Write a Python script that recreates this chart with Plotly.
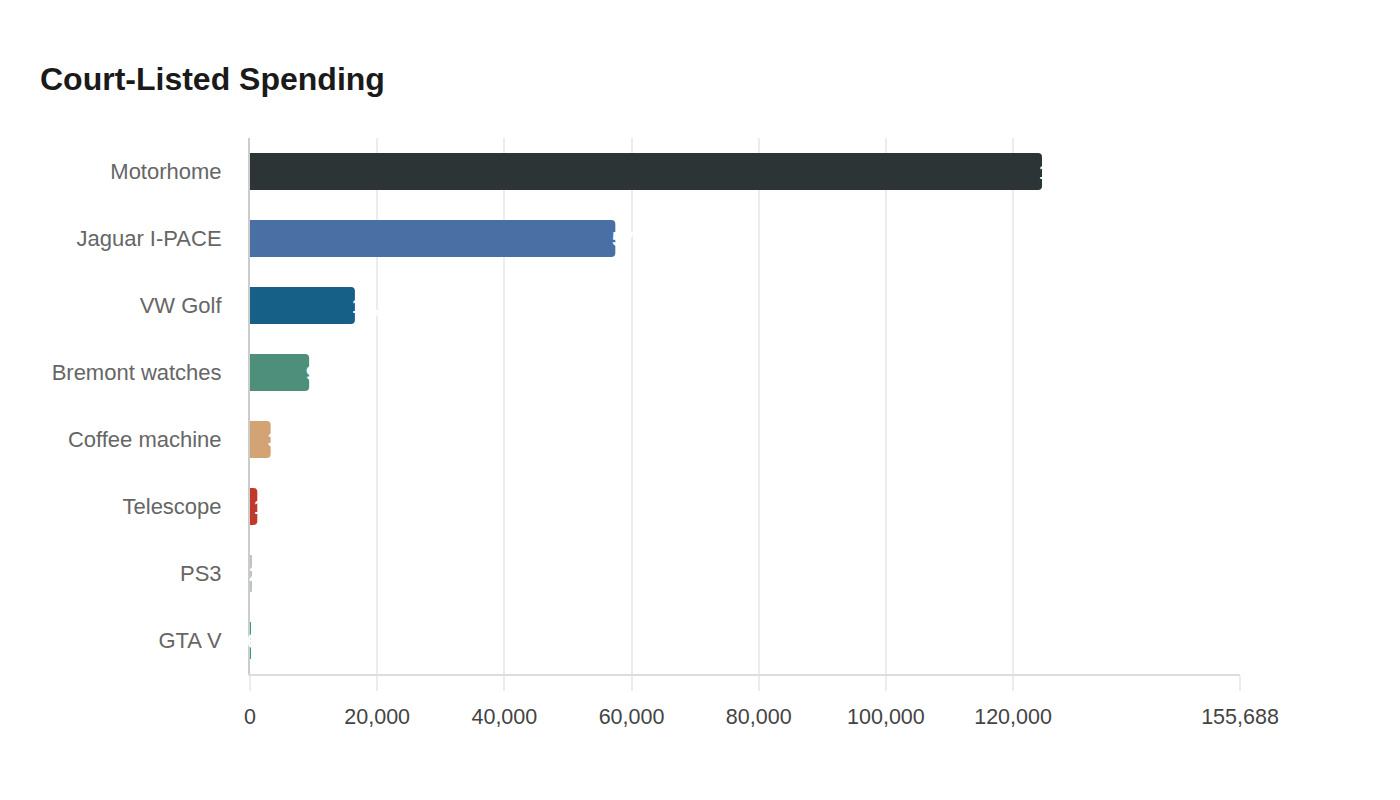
import plotly.graph_objects as go

# court-listed items and their listed cost
items = ['Motorhome', 'Jaguar I-PACE', 'VW Golf', 'Bremont watches',
         'Coffee machine', 'Telescope', 'PS3', 'GTA V']
amounts = [124550, 57450, 16500, 9300, 3250, 1150, 250, 60]
bar_colors = ['#2d3436', '#4a6fa5', '#166088', '#4e8f7c',
              '#d4a373', '#c0392b', '#bdc3c7', '#2a9d8f']
tick_vals = [0, 20000, 40000, 60000, 80000, 100000, 120000, 155688]
tick_text = ['0', '20,000', '40,000', '60,000', '80,000', '100,000', '120,000', '155,688']

fig = go.Figure(go.Bar(
    x=amounts, y=items, orientation='h',
    marker=dict(color=bar_colors, cornerradius=4, line=dict(width=0)),
    hoverinfo='x+y',
))

# white value labels sitting at the bar ends (mostly lost on the white bg)
for name, v in zip(items, amounts):
    fig.add_annotation(x=v, y=name, xref='x', yref='y', text=f'{v:,}',
                       showarrow=False, xanchor='left', xshift=-5,
                       font=dict(color='white', size=20, family='Liberation Sans', weight='bold'))

# the page body adds an 8px offset, so margins are pulled in by 8
fig.update_layout(
    width=1400, height=800,
    paper_bgcolor='white', plot_bgcolor='white',
    margin=dict(l=242, r=168, t=130, b=134),
    bargap=0.45,
    showlegend=False,
    font=dict(family='Liberation Sans, Arial, sans-serif', size=22, color='#666'),
    title=dict(text='Court-Listed Spending', x=32 / 1400, xanchor='left',
               y=1 - 71 / 800, yanchor='middle',
               font=dict(size=32, color='#1a1a1a', family='Liberation Sans, Arial, sans-serif', weight='bold')),
)
fig.update_xaxes(
    range=[0, 155688], tickvals=tick_vals, ticktext=tick_text,
    showgrid=True, gridcolor='#ececec', gridwidth=1.5,
    showline=True, linecolor='#dddddd', linewidth=2,
    ticks='outside', ticklen=15, tickcolor='#ececec', tickwidth=1.5,
    ticklabelstandoff=7,
    tickfont=dict(color='#444', size=21.5), zeroline=False,
)
fig.update_yaxes(
    categoryorder='array', categoryarray=items, autorange='reversed',
    showline=True, linecolor='#cccccc', linewidth=2,
    ticks='', ticklabelstandoff=22, showgrid=False,
    tickfont=dict(color='#666', size=22),
)

fig.write_html('out.html')
